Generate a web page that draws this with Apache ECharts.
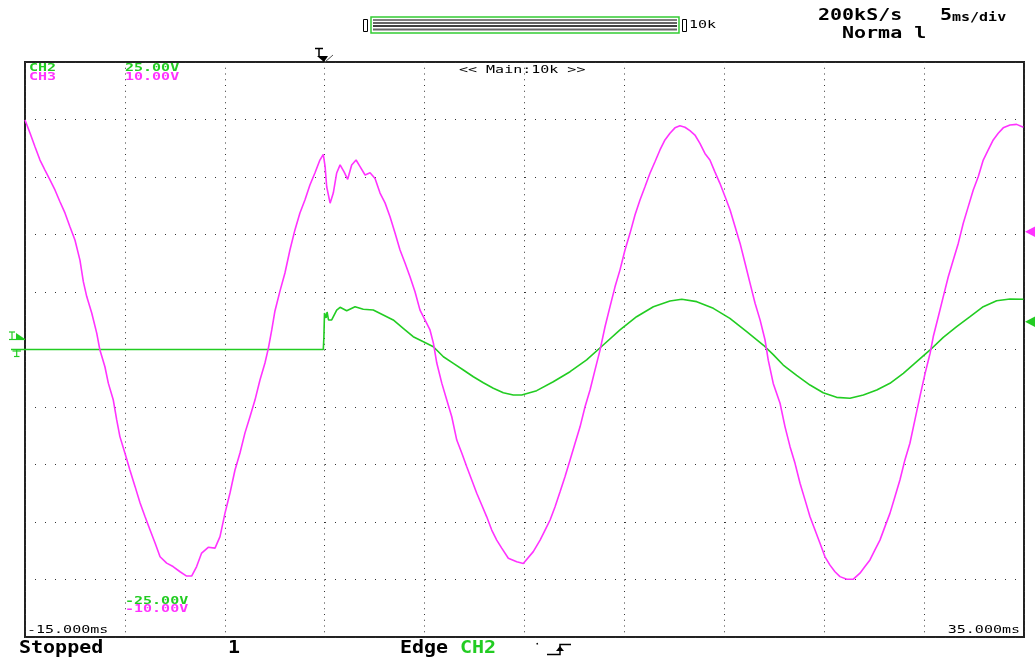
<!DOCTYPE html>
<html><head><meta charset="utf-8">
<script src="https://cdn.jsdelivr.net/npm/echarts@6/dist/echarts.min.js"></script>
<style>html,body{margin:0;padding:0;background:#fff}#c{width:1035px;height:659px}</style>
</head><body><div id="c"></div><script>
// ---- axis settings (oscilloscope: 5 ms/div, 10 divisions) ----
const timeMin = -15, timeMax = 35, timeDiv = 5;          // ms
const ch2Min = -25, ch2Max = 25, ch2Div = 5;             // V  (CH2 25.00V / -25.00V)
const ch3Min = -10, ch3Max = 10, ch3Div = 2;             // V  (CH3 10.00V / -10.00V)

// ---- header / footer texts ----
const sampleRate = '200kS/s';
const timebase = '5';
const timebaseUnit = 'ms/div';
const acqMode = 'Norma l';
const recordLen = '10k';
const zoomLabel = '<< Main:10k >>';
const ch2Labels = ['CH2', '25.00V', '-25.00V'];
const ch3Labels = ['CH3', '10.00V', '-10.00V'];
const timeLabels = ['-15.000ms', '35.000ms'];
const statusTexts = ['Stopped', '1', 'Edge', 'CH2'];

// ---- CH2 (green) : [time ms, volts] ----
const ch2Data = [[-15.00,0],[-0.07,0],[-0.04,1.09],[-0.01,3.17],[0.07,2.74],[0.12,3.26],[0.19,2.57],[0.27,2.74],[0.35,2.57],[0.60,3.43],[0.77,3.67],[1.10,3.37],[1.52,3.72],[1.93,3.50],[2.43,3.43],[2.93,3.00],[3.43,2.57],[3.93,1.84],[4.43,1.11],[4.94,0.68],[5.44,0.24],[5.94,-0.63],[6.44,-1.20],[6.94,-1.78],[7.44,-2.37],[7.94,-2.89],[8.44,-3.37],[8.94,-3.76],[9.44,-3.96],[9.86,-3.96],[10.61,-3.58],[11.44,-2.80],[12.28,-1.93],[13.11,-0.91],[13.94,0.39],[14.78,1.70],[15.61,2.85],[16.45,3.72],[17.28,4.22],[17.87,4.37],[18.62,4.16],[19.45,3.58],[20.28,2.71],[21.12,1.55],[21.95,0.39],[22.45,-0.45],[22.95,-1.35],[23.62,-2.25],[24.29,-3.09],[24.95,-3.76],[25.62,-4.16],[26.29,-4.24],[26.96,-3.96],[27.63,-3.52],[28.29,-2.94],[28.96,-2.07],[29.63,-1.06],[30.30,-0.04],[30.96,1.06],[31.63,1.98],[32.30,2.85],[32.96,3.72],[33.63,4.24],[34.30,4.39],[34.97,4.37]];

// ---- CH3 (magenta) : [time ms, volts] ----
const ch3Data = [[-15.00,7.98],[-14.75,7.53],[-14.50,7.05],[-14.25,6.59],[-14.00,6.24],[-13.75,5.90],[-13.50,5.55],[-13.25,5.14],[-13.00,4.75],[-12.75,4.27],[-12.50,3.81],[-12.25,3.11],[-12.08,2.36],[-11.91,1.84],[-11.66,1.27],[-11.41,0.57],[-11.25,-0.02],[-11.00,-0.60],[-10.83,-1.17],[-10.58,-1.76],[-10.41,-2.45],[-10.25,-3.03],[-10.00,-3.60],[-9.75,-4.19],[-9.49,-4.77],[-9.24,-5.34],[-8.99,-5.82],[-8.74,-6.28],[-8.49,-6.73],[-8.24,-7.21],[-7.91,-7.43],[-7.59,-7.55],[-7.24,-7.73],[-6.91,-7.88],[-6.66,-7.88],[-6.41,-7.55],[-6.16,-7.08],[-5.83,-6.88],[-5.49,-6.91],[-5.24,-6.51],[-4.99,-5.69],[-4.74,-4.99],[-4.49,-4.19],[-4.24,-3.60],[-3.99,-2.90],[-3.74,-2.34],[-3.49,-1.76],[-3.24,-1.06],[-2.99,-0.47],[-2.82,0.04],[-2.65,0.68],[-2.49,1.34],[-2.24,2.03],[-1.99,2.66],[-1.74,3.46],[-1.49,4.16],[-1.24,4.75],[-0.99,5.20],[-0.74,5.72],[-0.49,6.14],[-0.24,6.59],[-0.07,6.79],[0.02,6.36],[0.10,5.66],[0.27,5.09],[0.43,5.44],[0.60,6.14],[0.77,6.42],[0.97,6.18],[1.15,5.92],[1.35,6.42],[1.57,6.59],[1.77,6.36],[2.02,6.07],[2.27,6.15],[2.52,5.95],[2.77,5.44],[3.02,5.10],[3.27,4.62],[3.52,4.05],[3.77,3.46],[4.02,3.01],[4.27,2.53],[4.52,2.01],[4.77,1.37],[5.02,1.03],[5.27,0.68],[5.44,0.22],[5.61,-0.47],[5.86,-1.17],[6.11,-1.76],[6.36,-2.34],[6.61,-3.15],[6.86,-3.60],[7.11,-4.08],[7.36,-4.54],[7.61,-5.00],[7.86,-5.41],[8.11,-5.82],[8.36,-6.28],[8.61,-6.63],[8.86,-6.91],[9.19,-7.26],[9.61,-7.38],[9.94,-7.44],[10.44,-7.03],[10.78,-6.63],[11.03,-6.28],[11.28,-5.93],[11.53,-5.47],[11.78,-4.95],[12.03,-4.42],[12.28,-3.84],[12.53,-3.26],[12.78,-2.69],[13.03,-1.99],[13.28,-1.41],[13.53,-0.71],[13.78,-0.02],[14.03,0.79],[14.28,1.49],[14.53,2.18],[14.78,2.77],[15.03,3.46],[15.28,4.04],[15.53,4.68],[15.78,5.20],[16.03,5.66],[16.28,6.13],[16.53,6.53],[16.78,6.94],[17.03,7.29],[17.28,7.52],[17.53,7.71],[17.78,7.78],[18.03,7.73],[18.28,7.61],[18.53,7.46],[18.78,7.17],[19.03,6.82],[19.28,6.59],[19.53,6.18],[19.78,5.78],[20.04,5.31],[20.29,4.85],[20.54,4.27],[20.79,3.69],[21.04,3.00],[21.29,2.30],[21.54,1.61],[21.79,1.03],[22.04,0.33],[22.20,-0.37],[22.45,-1.18],[22.79,-1.87],[23.04,-2.69],[23.29,-3.38],[23.54,-3.96],[23.79,-4.65],[24.04,-5.23],[24.29,-5.82],[24.54,-6.28],[24.79,-6.74],[25.04,-7.21],[25.29,-7.50],[25.54,-7.73],[25.79,-7.90],[26.13,-7.99],[26.46,-7.99],[26.79,-7.78],[27.04,-7.55],[27.29,-7.32],[27.54,-6.97],[27.79,-6.63],[28.04,-6.16],[28.29,-5.70],[28.54,-5.12],[28.79,-4.54],[29.04,-3.84],[29.29,-3.26],[29.54,-2.45],[29.79,-1.64],[30.05,-0.83],[30.30,-0.13],[30.46,0.45],[30.71,1.14],[30.96,1.84],[31.21,2.53],[31.46,3.11],[31.71,3.69],[31.96,4.39],[32.21,4.97],[32.46,5.55],[32.71,6.01],[32.96,6.59],[33.21,6.94],[33.46,7.29],[33.71,7.52],[33.96,7.71],[34.30,7.81],[34.63,7.83],[34.97,7.73]];

const GREEN = '#22cc22', MAGENTA = '#ff33ff';
const SMALL = 'bold 15px "DejaVu Sans Mono", monospace';
const BIG = 'bold 20px "DejaVu Sans Mono", monospace';

function txt(s, x, y, font, fill, sy, align) {
  return { type: 'text', x: x, y: y, scaleY: sy, z: 100, silent: true,
    style: { text: s, font: font, fill: fill || '#000', align: align || 'left', verticalAlign: 'middle',
             textAlign: align || 'left', textVerticalAlign: 'middle' } };
}
function line(pts, color, w) {
  return { type: 'polyline', z: 100, silent: true, shape: { points: pts }, style: { stroke: color, lineWidth: w || 1, fill: null } };
}
function poly(pts, color) {
  return { type: 'polygon', z: 100, silent: true, shape: { points: pts }, style: { fill: color } };
}

const graphics = [
  // record-length bar at top
  { type: 'rect', z: 100, silent: true, shape: { x: 371, y: 17, width: 308, height: 16 }, style: { fill: '#fff', stroke: '#33cc33', lineWidth: 1.5 } },
  line([[373, 20], [677, 20]], '#000', 1),
  line([[373, 23], [677, 23]], '#666', 2),
  line([[373, 26], [677, 26]], '#000', 1.5),
  line([[373, 29.5], [677, 29.5]], '#666', 2),
  { type: 'rect', z: 100, silent: true, shape: { x: 363.5, y: 19.5, width: 4, height: 12 }, style: { fill: '#fff', stroke: '#000', lineWidth: 1 } },
  { type: 'rect', z: 100, silent: true, shape: { x: 682.5, y: 19.5, width: 4, height: 12 }, style: { fill: '#fff', stroke: '#000', lineWidth: 1 } },
  txt(recordLen, 689, 25, '15px "DejaVu Sans Mono", monospace', '#000', 0.7),
  txt(sampleRate, 818, 16.5, BIG, '#000', 0.76),
  txt(timebase, 940, 16.5, BIG, '#000', 0.76),
  txt(timebaseUnit, 952, 17.5, 'bold 15px "DejaVu Sans Mono", monospace', '#000', 0.8),
  txt(acqMode, 842, 34, BIG, '#000', 0.76),
  // trigger position marker (top)
  line([[315, 48.5], [323, 48.5]], '#000', 1.5),
  line([[319, 48.5], [319, 57]], '#000', 1.5),
  poly([[317, 56], [328, 56], [324, 62]], '#000'),
  line([[325, 62], [333, 55]], '#555', 1),
  // left: trigger level & ground markers
  line([[9, 332], [15, 332]], GREEN, 1.2), line([[12, 332], [12, 339]], GREEN, 1.2),
  poly([[16, 333], [25, 339], [16, 339]], GREEN),
  line([[9, 339.5], [25, 339.5]], GREEN, 1.2),
  line([[11, 349.5], [25, 349.5]], GREEN, 1.5),
  line([[12.5, 351], [21, 351]], GREEN, 1.2),
  line([[16.7, 349], [16.7, 356]], GREEN, 1.2),
  line([[14, 356.5], [19.5, 356.5]], GREEN, 1.2),
  // right side markers
  poly([[1025, 231.7], [1035, 226.5], [1035, 237]], MAGENTA),
  poly([[1025, 321.7], [1035, 316.5], [1035, 327]], GREEN),
  // in-plot labels
  txt(ch2Labels[0], 29, 68, SMALL, GREEN, 0.7),
  txt(ch2Labels[1], 125, 68, SMALL, GREEN, 0.7),
  txt(ch3Labels[0], 29, 77, SMALL, MAGENTA, 0.7),
  txt(ch3Labels[1], 125, 77, SMALL, MAGENTA, 0.7),
  txt(zoomLabel, 459, 70.5, '15px "DejaVu Sans Mono", monospace', '#000', 0.7),
  txt(ch2Labels[2], 125, 601, SMALL, GREEN, 0.7),
  txt(ch3Labels[2], 125, 609.5, SMALL, MAGENTA, 0.7),
  txt(timeLabels[0], 27, 630.5, '15px "DejaVu Sans Mono", monospace', '#000', 0.7),
  txt(timeLabels[1], 1020, 630.5, '15px "DejaVu Sans Mono", monospace', '#000', 0.7, 'right'),
  // status line
  txt(statusTexts[0], 19, 649, BIG, '#000', 0.85),
  txt(statusTexts[1], 228, 649, BIG, '#000', 0.85),
  txt(statusTexts[2], 400, 649, BIG, '#000', 0.85),
  txt(statusTexts[3], 460, 649, BIG, GREEN, 0.85),
  line([[537, 643], [537.5, 644.5]], '#000', 1.5),
  line([[547, 654.5], [560, 654.5], [560, 644.5], [571, 644.5]], '#000', 1.5),
  poly([[556, 651], [564, 651], [560, 646]], '#000')
];

const chart = echarts.init(document.getElementById('c'), null, { renderer: 'canvas' });
chart.setOption({
  animation: false,
  backgroundColor: '#fff',
  grid: { left: 25, right: 11, top: 62, bottom: 22, show: true, borderColor: '#222', borderWidth: 2, backgroundColor: 'transparent' },
  xAxis: {
    type: 'value', min: timeMin, max: timeMax, interval: timeDiv,
    axisLine: { show: false }, axisTick: { show: false }, axisLabel: { show: false },
    splitLine: { show: true, lineStyle: { color: '#333', width: 1, type: [1, 4.75] } }
  },
  yAxis: [
    { type: 'value', min: ch2Min, max: ch2Max, interval: ch2Div,
      axisLine: { show: false }, axisTick: { show: false }, axisLabel: { show: false },
      splitLine: { show: true, lineStyle: { color: '#333', width: 1, type: [1, 9] } } },
    { type: 'value', min: ch3Min, max: ch3Max, interval: ch3Div,
      axisLine: { show: false }, axisTick: { show: false }, axisLabel: { show: false },
      splitLine: { show: false } }
  ],
  series: [
    { name: 'CH2', type: 'line', yAxisIndex: 0, data: ch2Data, showSymbol: false, symbol: 'none',
      lineStyle: { color: GREEN, width: 1.6 }, itemStyle: { color: GREEN }, z: 3 },
    { name: 'CH3', type: 'line', yAxisIndex: 1, data: ch3Data, showSymbol: false, symbol: 'none',
      lineStyle: { color: MAGENTA, width: 1.6 }, itemStyle: { color: MAGENTA }, z: 4 }
  ],
  graphic: graphics
});
</script></body></html>
